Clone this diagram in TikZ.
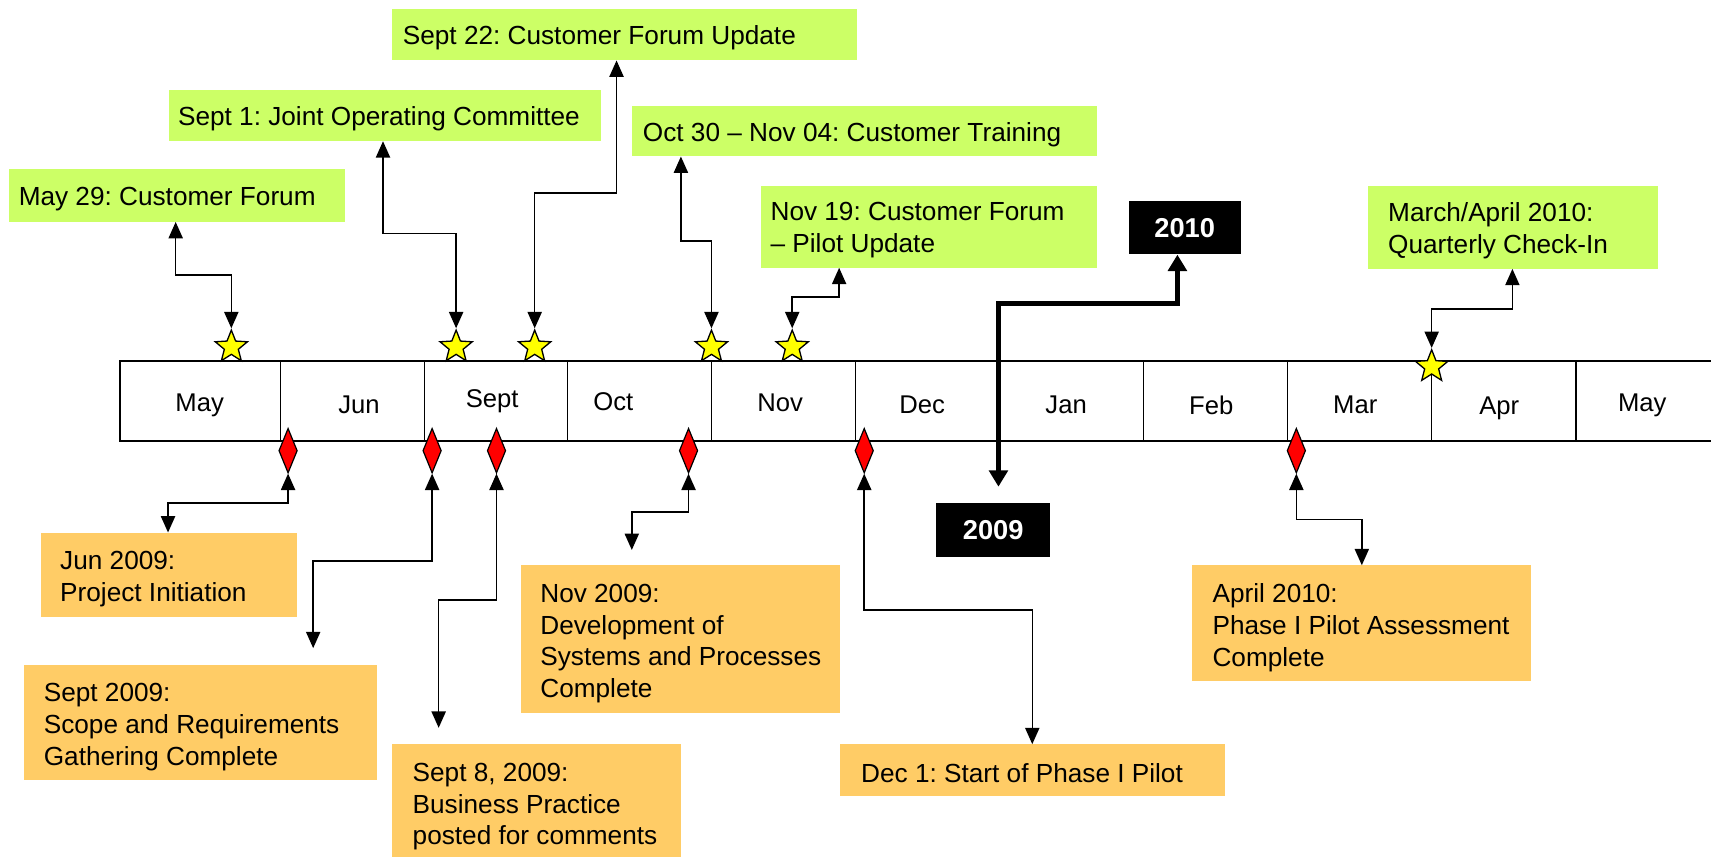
\documentclass[tikz,border=0pt]{standalone}
\usepackage{fontspec}
\setmainfont{Liberation Sans}
\usetikzlibrary{shapes.geometric,arrows.meta,calc}
\definecolor{lgreen}{HTML}{CCFF66}
\definecolor{lorange}{HTML}{FFCC66}
\definecolor{ystar}{HTML}{FFFF00}
\definecolor{rdia}{HTML}{FF0000}
\frenchspacing
\begin{document}
\begin{tikzpicture}[x=1pt,y=-1pt,
  month/.style={font=\fontsize{23.5}{27}\selectfont, inner sep=0pt},
  gbox/.style={fill=lgreen, draw=none, anchor=north west, inner sep=0pt},
  obox/.style={fill=lorange, draw=none, anchor=north west, inner sep=0pt},
  ybox/.style={fill=black, draw=none, anchor=north west, inner sep=0pt, text=white, font=\bfseries\fontsize{25}{30}\selectfont},
  txt/.style={anchor=west, align=left, inner sep=0pt, font=\fontsize{24}{29}\selectfont},
  starnode/.style={star, star points=5, star point ratio=2.3, minimum size=31pt, inner sep=0pt, draw=black, fill=ystar, line width=1.2pt},
  dia/.style={diamond, minimum width=17pt, minimum height=41pt, inner sep=0pt, draw=black, fill=rdia, line width=1.1pt},
  con/.style={line width=1.4pt, {Triangle[width=13pt,length=15pt]}-{Triangle[width=13pt,length=15pt]}},
  bigcon/.style={line width=5pt, {Triangle[width=17pt,length=15pt]}-{Triangle[width=17pt,length=15pt]}}
]
\useasboundingbox (0,0) rectangle (1568,785);
\fill[white] (0,0) rectangle (1568,785);

% timeline bar
\draw[line width=2pt] (110,331) rectangle (1600,404);
\foreach \x in {257,389,520,652,784,916,1048,1180,1312,1444}
  \draw[line width=1.5pt] (\x,331) -- (\x,404);
\node[month] (m1) at (183,371) {May};
\node[month] (m2) at (329,371) {Jun};
\node[month] (m3) at (451,368) {Sept};
\node[month] (m4) at (562,368) {Oct};
\node[month] (m5) at (715,369) {Nov};
\node[month] (m6) at (845,371) {Dec};
\node[month] (m7) at (977,371) {Jan};
\node[month] (m8) at (1110,371) {Feb};
\node[month] (m9) at (1242,371) {Mar};
\node[month] (m10) at (1374,374) {Apr};
\node[month] (m11) at (1505,371) {May};

% green boxes
\node[gbox, minimum width=308pt, minimum height=48pt] (g1) at (8,155) {};
\node[txt] at ($(g1.west)+(9,3)$) {May 29: Customer Forum};
\node[gbox, minimum width=396pt, minimum height=47pt] (g2) at (155,82) {};
\node[txt] at ($(g2.west)+(8,3)$) {Sept 1: Joint Operating Committee};
\node[gbox, minimum width=426pt, minimum height=47pt] (g3) at (359,8) {};
\node[txt] at ($(g3.west)+(10,3)$) {Sept 22: Customer Forum Update};
\node[gbox, minimum width=426pt, minimum height=46pt] (g4) at (579,97) {};
\node[txt] at ($(g4.west)+(10,3)$) {Oct 30 -- Nov 04: Customer Training};
\node[gbox, minimum width=308pt, minimum height=75pt] (g5) at (697,170) {};
\node[txt] at ($(g5.west)+(9,3)$) {Nov 19: Customer Forum\\-- Pilot Update};
\node[gbox, minimum width=266pt, minimum height=76pt] (g6) at (1253,170) {};
\node[txt] at ($(g6.west)+(19,3)$) {March/April 2010:\\Quarterly Check-In};

% orange boxes
\node[obox, minimum width=235pt, minimum height=77pt] (o1) at (37,488) {};
\node[txt] at ($(o1.west)+(18,4)$) {Jun 2009:\\Project Initiation};
\node[obox, minimum width=323pt, minimum height=106pt] (o2) at (22,609) {};
\node[txt] at ($(o2.west)+(18,4)$) {Sept 2009:\\Scope and Requirements\\Gathering Complete};
\node[obox, minimum width=265pt, minimum height=106pt] (o3) at (359,682) {};
\node[txt] at ($(o3.west)+(19,4)$) {Sept 8, 2009:\\Business Practice\\posted for comments};
\node[obox, minimum width=293pt, minimum height=135pt] (o4) at (477,518) {};
\node[txt] at ($(o4.west)+(18,4)$) {Nov 2009:\\Development of\\Systems and Processes\\Complete};
\node[obox, minimum width=352pt, minimum height=47pt] (o5) at (770,682) {};
\node[txt] at ($(o5.west)+(19,3)$) {Dec 1: Start of Phase I Pilot};
\node[obox, minimum width=311pt, minimum height=106pt] (o6) at (1092,518) {};
\node[txt] at ($(o6.west)+(19,4)$) {April 2010:\\Phase I Pilot Assessment\\Complete};

% year boxes
\node[ybox, minimum width=103pt, minimum height=49pt] (y2010) at (1034,184) {2010};
\node[ybox, minimum width=104pt, minimum height=49pt] (y2009) at (858,461) {2009};

% stars
\node[starnode] (s1) at (212,318) {};
\node[starnode] (s2) at (418,318) {};
\node[starnode] (s3) at (490,318) {};
\node[starnode] (s4) at (652,318) {};
\node[starnode] (s5) at (726,318) {};
\node[starnode] (s6) at (1312,336) {};

% diamonds
\node[dia] (d1) at (264,413) {};
\node[dia] (d2) at (396,413) {};
\node[dia] (d3) at (455,413) {};
\node[dia] (d4) at (631,413) {};
\node[dia] (d5) at (792,413) {};
\node[dia] (d6) at (1188,413) {};

% free ends
\coordinate (c2) at (287,594);
\coordinate (c3) at (402,667);
\coordinate (c4) at (579,504);
\coordinate (c2009) at (915,446);

% upper connectors
\draw[con] (s1.north) |- (161,252) -- ($(g1.south west)+(153,0)$);
\draw[con] (s2.north) |- (351,214) -- ($(g2.south west)+(196,0)$);
\draw[con] (s3.north) |- (565,177) -- ($(g3.south west)+(206,0)$);
\draw[con] (s4.north) |- (624,221) -- ($(g4.south west)+(45,0)$);
\draw[con] (s5.north) |- (769,272) -- ($(g5.south west)+(72,0)$);
\draw[con] (s6.north) |- (1386,283) -- ($(g6.south west)+(133,0)$);

% lower connectors
\draw[con] (d1.south) |- (154,461) -- ($(o1.north west)+(117,0)$);
\draw[con] (d2.south) |- (287,514) -- (c2);
\draw[con] (d3.south) |- (402,550) -- (c3);
\draw[con] (d4.south) |- (579,469) -- (c4);
\draw[con] (d5.south) |- (946,559) -- ($(o5.north west)+(176,0)$);
\draw[con] (d6.south) |- (1248,476) -- ($(o6.north west)+(156,0)$);

% year arrow
\draw[bigcon] ($(y2010.south west)+(45,0)$) |- (915,278) -- (c2009);
\end{tikzpicture}
\end{document}
